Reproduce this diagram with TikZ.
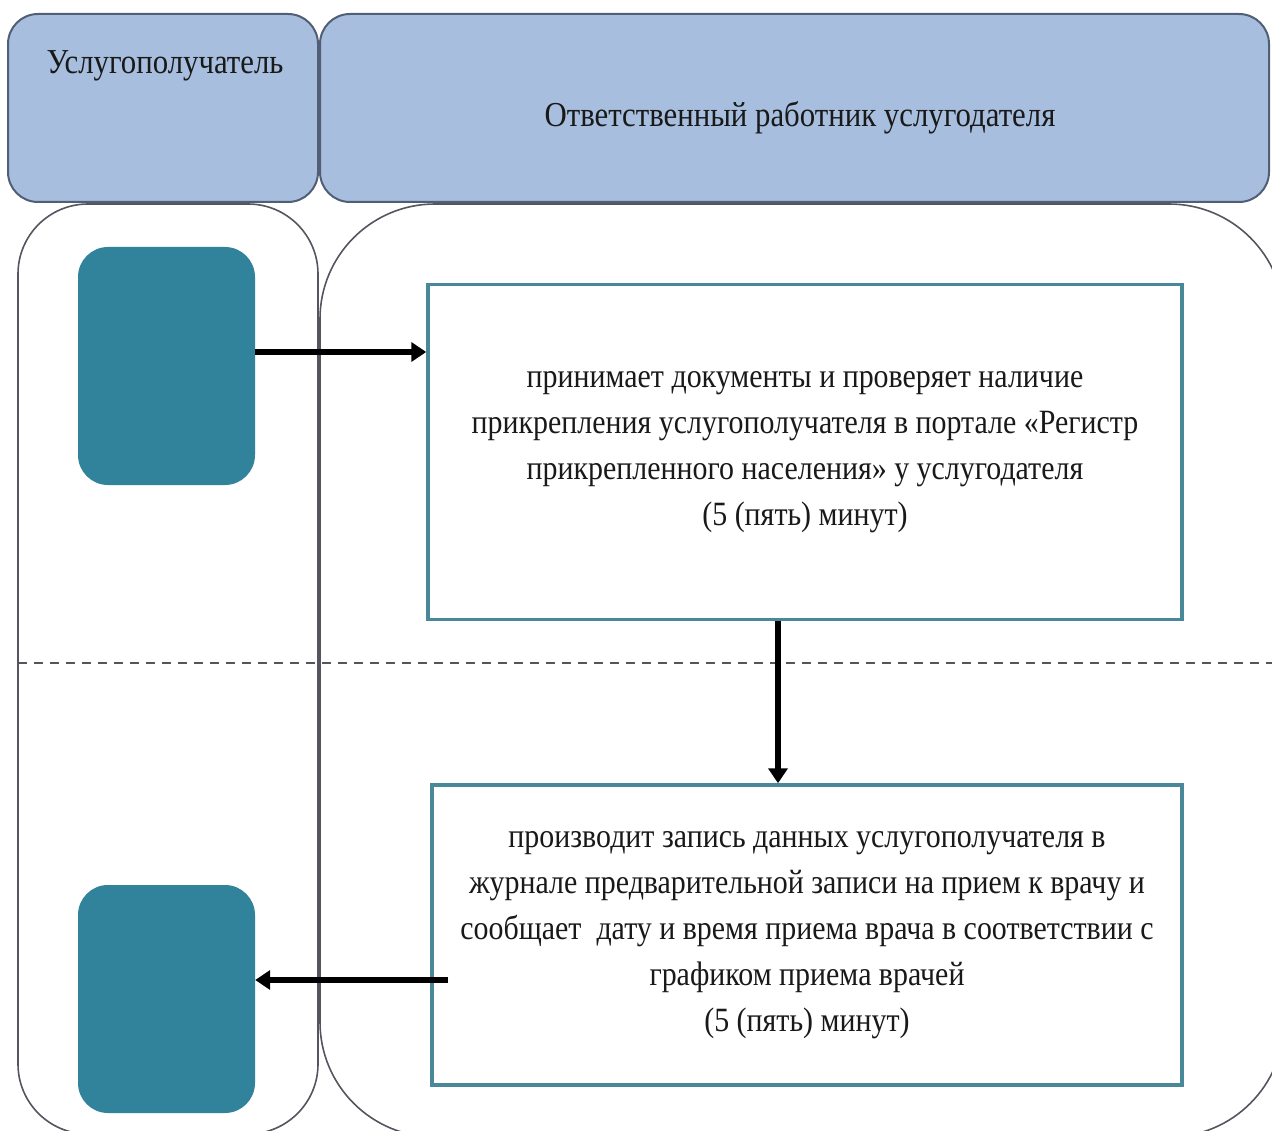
\documentclass[tikz,border=0pt]{standalone}
\usepackage{fontspec}
\setmainfont{Liberation Serif}[FakeStretch=0.88]
\usetikzlibrary{arrows.meta}
\definecolor{hdrfill}{RGB}{167,190,222}
\definecolor{hdrline}{RGB}{80,95,118}
\definecolor{tealbox}{RGB}{49,131,156}
\definecolor{procline}{RGB}{72,136,152}
\definecolor{laneline}{RGB}{85,85,95}
\definecolor{txt}{RGB}{25,25,25}
\tikzset{
  hdr/.style={draw=hdrline, line width=2pt, fill=hdrfill, rounded corners=30pt},
  lanebox/.style={draw=laneline, line width=1.6pt},
  actor/.style={fill=tealbox, draw=none, rounded corners=30pt, minimum width=177pt, inner sep=0pt},
  proc/.style={draw=procline, line width=3.5pt, fill=white, inner sep=0pt, align=center, text=txt,
     font=\fontsize{34}{46}\selectfont},
  flow/.style={line width=5.5pt, -{Triangle[length=15pt,width=19pt]}},
  sep/.style={draw=laneline, line width=1.6pt, dash pattern=on 9pt off 7pt},
  hdrtext/.style={text=txt, font=\fontsize{35}{42}\selectfont, inner sep=0pt}
}
\begin{document}
\begin{tikzpicture}[x=1pt,y=-1pt]
\useasboundingbox (0,0) rectangle (1272,1131);
\begin{scope}
\clip (0,0) rectangle (1272,1131);
% lanes
\draw[lanebox, rounded corners=70pt] (18,204) rectangle (318,1134);
\draw[lanebox, rounded corners=115pt] (320,204) rectangle (1284,1137);
% headers
\draw[hdr] (8,14) rectangle (318,202);
\draw[hdr] (320,14) rectangle (1269,202);
\node[hdrtext] (h1) at (165,66) {Услугополучатель};
\node[hdrtext] (h2) at (800,118) {Ответственный работник услугодателя};
% separator
\coordinate (sepL) at (18,663);
\coordinate (sepR) at (1272,663);
\draw[sep] (sepL) -- (sepR);
% actor boxes
\node[actor, minimum height=238pt] (a1) at (166.5,366) {};
\node[actor, minimum height=228pt] (a2) at (166.5,999) {};
% process boxes
\node[proc, minimum width=754pt, minimum height=335pt] (p1) at (805,452)
 {принимает документы и проверяет наличие\\
  прикрепления услугополучателя в портале «Регистр\\
  прикрепленного населения» у услугодателя\\
  (5 (пять) минут)};
\node[proc, minimum width=750pt, minimum height=300pt] (p2) at (807,935)
 {производит запись данных услугополучателя в\\
  журнале предварительной записи на прием к врачу и\\
  сообщает\ \ дату и время приема врача в соответствии с\\
  графиком приема врачей\\
  (5 (пять) минут)};
% connectors
\draw[flow] ([yshift=14pt]a1.east) -- ([yshift=14pt]a1.east -| p1.west);
\draw[flow] ([xshift=-27pt]p1.south) -- ([xshift=-27pt]p1.south |- p2.north);
\draw[flow] ([xshift=18pt,yshift=-45pt]p2.west) -- ([yshift=19pt]a2.east);
\end{scope}
\end{tikzpicture}
\end{document}
